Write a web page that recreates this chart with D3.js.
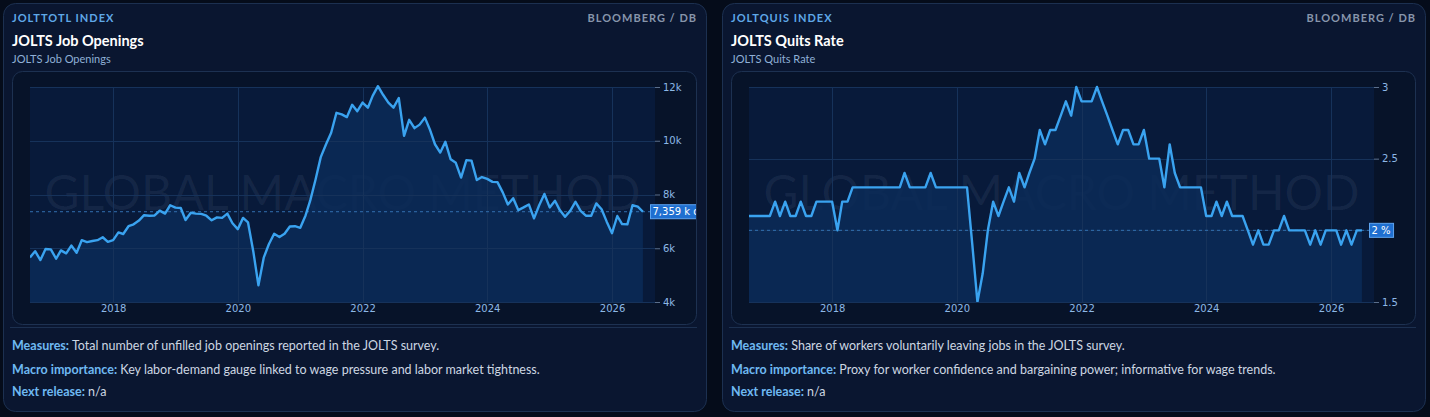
<!DOCTYPE html>
<html>
<head>
<meta charset="utf-8">
<script src="https://cdn.jsdelivr.net/npm/d3@7"></script>
<style>
  html, body { margin: 0; padding: 0; background: #050c1a; }
  svg { display: block; }
</style>
</head>
<body>
<svg id="chart" width="1430" height="417"></svg>
<script>
// monthly observations, first one is Sep 2016
const first_month = "2016-09";

// JOLTS job openings, thousands
const openings = [
  5660, 5890, 5560, 5970, 5960, 5610, 5920, 5810, 6100, 5830,
  6300, 6230, 6270, 6300, 6410, 6240, 6300, 6590, 6530, 6820,
  6890, 7030, 7230, 7210, 7220, 7400, 7290, 7600, 7510, 7500,
  7050, 7320, 7290, 7280, 7210, 7040, 7150, 7130, 7290, 6930,
  6710, 7130, 6960, 5880, 4620, 5650, 6150, 6540, 6420, 6540,
  6810, 6820, 6760, 7220, 7790, 8570, 9390, 9870, 10300, 11040,
  10980, 10880, 11340, 11100, 11420, 11230, 11670, 12030, 11710, 11420,
  11230, 11590, 10180, 10780, 10470, 10600, 10860, 10390, 9870, 9560,
  9960, 9310, 9180, 8630, 9280, 9260, 8540, 8650, 8580, 8470,
  8460, 8080, 7630, 7860, 7420, 7520, 7630, 7110, 7610, 8020,
  7520, 7770, 7420, 7170, 7390, 7730, 7390, 7210, 7210, 7670,
  7450, 6990, 6560, 7200, 6900, 6890, 7600, 7550, 7359
];

// JOLTS quits rate, %
const quits = [
  2.1, 2.1, 2.1, 2.1, 2.1, 2.2, 2.1, 2.2, 2.1, 2.1,
  2.2, 2.1, 2.1, 2.2, 2.2, 2.2, 2.2, 2.0, 2.2, 2.2,
  2.3, 2.3, 2.3, 2.3, 2.3, 2.3, 2.3, 2.3, 2.3, 2.3,
  2.4, 2.3, 2.3, 2.3, 2.3, 2.4, 2.3, 2.3, 2.3, 2.3,
  2.3, 2.3, 2.3, 1.9, 1.5, 1.7, 2.0, 2.2, 2.1, 2.2,
  2.3, 2.2, 2.4, 2.3, 2.4, 2.5, 2.7, 2.6, 2.7, 2.7,
  2.8, 2.9, 2.8, 3.0, 2.9, 2.9, 2.9, 3.0, 2.9, 2.8,
  2.7, 2.6, 2.7, 2.7, 2.6, 2.6, 2.7, 2.5, 2.5, 2.5,
  2.3, 2.6, 2.4, 2.3, 2.3, 2.3, 2.3, 2.3, 2.1, 2.1,
  2.2, 2.1, 2.2, 2.1, 2.1, 2.1, 2.0, 1.9, 2.0, 1.9,
  1.9, 2.0, 2.0, 2.1, 2.0, 2.0, 2.0, 2.0, 1.9, 2.0,
  1.9, 2.0, 2.0, 2.0, 1.9, 2.0, 1.9, 2.0, 2.0
];

const year_ticks = [2018, 2020, 2022, 2024, 2026];
const openings_ticks = [4000, 6000, 8000, 10000, 12000];
const quits_ticks = [1.5, 2, 2.5, 3];

const panels = [
  {
    code: "JOLTTOTL INDEX",
    source: "BLOOMBERG / DB",
    title: "JOLTS Job Openings",
    subtitle: "JOLTS Job Openings",
    values: openings,
    ticks: openings_ticks,
    domain: [4000, 12000],
    tick_format: (d) => d / 1000 + "k",
    badge: (v) => d3.format(",")(v) + " k openings",
    measures: "Total number of unfilled job openings reported in the JOLTS survey.",
    importance: "Key labor-demand gauge linked to wage pressure and labor market tightness.",
    next_release: "n/a",
  },
  {
    code: "JOLTQUIS INDEX",
    source: "BLOOMBERG / DB",
    title: "JOLTS Quits Rate",
    subtitle: "JOLTS Quits Rate",
    values: quits,
    ticks: quits_ticks,
    domain: [1.5, 3],
    tick_format: (d) => String(d),
    badge: (v) => v + " %",
    measures: "Share of workers voluntarily leaving jobs in the JOLTS survey.",
    importance: "Proxy for worker confidence and bargaining power; informative for wage trends.",
    next_release: "n/a",
  },
];

const ui_font = "Lato, 'Noto Sans', sans-serif";
const axis_font = "'DejaVu Sans', Verdana, sans-serif";

const col = {
  card: "#0a1630",
  card_line: "#1c3050",
  box: "#071329",
  box_line: "#1d3151",
  plot: "#081a3a",
  area: "#0b2b58",
  grid: "#16325a",
  line: "#3aa3f0",
  axis: "#8db8e6",
  tick: "#5b6f8c",
  dash: "#3270b0",
};

const svg = d3.select("#chart");
const start = d3.timeParse("%Y-%m")(first_month);

function draw_panel(panel, ox, idx) {
  const g = svg.append("g").attr("transform", `translate(${ox},0)`);

  // card
  g.append("rect")
    .attr("x", 3.5).attr("y", 3.5)
    .attr("width", 703).attr("height", 408)
    .attr("rx", 12)
    .attr("fill", col.card)
    .attr("stroke", col.card_line);

  g.append("text")
    .attr("x", 12).attr("y", 22)
    .attr("font-family", ui_font).attr("font-size", 11)
    .attr("font-weight", 700).attr("letter-spacing", 1)
    .attr("fill", "#5fa8e8")
    .text(panel.code);

  g.append("text")
    .attr("x", 697).attr("y", 22)
    .attr("text-anchor", "end")
    .attr("font-family", ui_font).attr("font-size", 11)
    .attr("font-weight", 700).attr("letter-spacing", 1)
    .attr("fill", "#8795ab")
    .text(panel.source);

  g.append("text")
    .attr("x", 12).attr("y", 46)
    .attr("font-family", ui_font).attr("font-size", 14.5)
    .attr("font-weight", 700)
    .attr("fill", "#ffffff")
    .text(panel.title);

  g.append("text")
    .attr("x", 12).attr("y", 63)
    .attr("font-family", ui_font).attr("font-size", 11)
    .attr("fill", "#8fb0d6")
    .text(panel.subtitle);

  // chart box
  g.append("rect")
    .attr("x", 12.5).attr("y", 71.5)
    .attr("width", 684).attr("height", 253)
    .attr("rx", 10)
    .attr("fill", col.box)
    .attr("stroke", col.box_line);

  const clip_id = "clip-" + idx;
  g.append("clipPath").attr("id", clip_id)
    .append("rect")
    .attr("x", 13).attr("y", 72)
    .attr("width", 683).attr("height", 252)
    .attr("rx", 10);

  const plot = { left: 30, right: 655, top: 87, bottom: 302 };
  const dates = panel.values.map((_, i) => d3.timeMonth.offset(start, i));
  const last = panel.values[panel.values.length - 1];

  const x = d3.scaleTime()
    .domain([start, d3.timeMonth.offset(start, 120)])
    .range([plot.left, plot.right - 1.5]);
  const y = d3.scaleLinear()
    .domain(panel.domain)
    .range([plot.bottom, plot.top]);

  g.append("rect")
    .attr("x", plot.left).attr("y", plot.top)
    .attr("width", plot.right - plot.left)
    .attr("height", plot.bottom - plot.top)
    .attr("fill", col.plot);

  // watermark
  g.append("text")
    .attr("x", (plot.left + plot.right) / 2)
    .attr("y", 210)
    .attr("text-anchor", "middle")
    .attr("font-family", ui_font)
    .attr("font-size", 48)
    .attr("fill", "#c8dcff")
    .attr("fill-opacity", 0.065)
    .text("GLOBAL MACRO METHOD");

  const series = panel.values.map((v, i) => ({ date: dates[i], value: v }));

  const area = d3.area()
    .x((d) => x(d.date))
    .y0(plot.bottom)
    .y1((d) => y(d.value));

  const line = d3.line()
    .x((d) => x(d.date))
    .y((d) => y(d.value));

  const plot_clip = "plotclip-" + idx;
  g.append("clipPath").attr("id", plot_clip)
    .append("rect")
    .attr("x", plot.left).attr("y", plot.top - 2)
    .attr("width", plot.right - plot.left)
    .attr("height", plot.bottom - plot.top + 2);

  g.append("path")
    .datum(series)
    .attr("fill", col.area)
    .attr("fill-opacity", 0.85)
    .attr("d", area);

  // grid over the area
  g.append("g")
    .selectAll("line")
    .data(year_ticks)
    .join("line")
    .attr("x1", (d) => Math.round(x(new Date(d, 0, 1))) + 0.5)
    .attr("x2", (d) => Math.round(x(new Date(d, 0, 1))) + 0.5)
    .attr("y1", plot.top).attr("y2", plot.bottom)
    .attr("stroke", col.grid);

  g.append("g")
    .selectAll("line")
    .data(panel.ticks)
    .join("line")
    .attr("x1", plot.left).attr("x2", plot.right)
    .attr("y1", (d) => Math.round(y(d)) + 0.5)
    .attr("y2", (d) => Math.round(y(d)) + 0.5)
    .attr("stroke", col.grid);

  // last value line
  g.append("line")
    .attr("x1", plot.left).attr("x2", plot.right)
    .attr("y1", y(last)).attr("y2", y(last))
    .attr("stroke", col.dash)
    .attr("stroke-dasharray", "3,3");

  g.append("path")
    .datum(series)
    .attr("clip-path", `url(#${plot_clip})`)
    .attr("fill", "none")
    .attr("stroke", col.line)
    .attr("stroke-width", 2.4)
    .attr("stroke-linejoin", "round")
    .attr("d", line);

  // axes
  const x_axis = d3.axisBottom(x)
    .tickValues(year_ticks.map((d) => new Date(d, 0, 1)))
    .tickFormat(d3.timeFormat("%Y"))
    .tickSize(0)
    .tickPadding(3);

  const ax = g.append("g")
    .attr("transform", `translate(0,${plot.bottom})`)
    .call(x_axis);
  ax.select(".domain").remove();
  ax.selectAll("text")
    .attr("font-family", axis_font).attr("font-size", 10)
    .attr("fill", col.axis);

  // tick labels that sit under the value badge are hidden, as in the source
  const y_axis = d3.axisRight(y)
    .tickValues(panel.ticks)
    .tickFormat((d) => (Math.abs(y(d) - y(last)) < 9 ? "" : panel.tick_format(d)))
    .tickSize(5)
    .tickPadding(3);

  const ay = g.append("g")
    .attr("transform", `translate(${plot.right},0)`)
    .call(y_axis);
  ay.select(".domain").remove();
  ay.selectAll("line").attr("stroke", col.tick);
  ay.selectAll("text")
    .attr("font-family", axis_font).attr("font-size", 10)
    .attr("fill", col.axis);

  // value badge, clipped by the chart box
  const bg = g.append("g").attr("clip-path", `url(#${clip_id})`);
  const badge = bg.append("g")
    .attr("transform", `translate(${plot.right - 5},${y(last)})`);
  const label = badge.append("text")
    .attr("x", 2.5).attr("y", 0)
    .attr("dy", "0.36em")
    .attr("font-family", axis_font).attr("font-size", 10)
    .attr("fill", "#ffffff")
    .text(panel.badge(last));
  const w = label.node().getComputedTextLength() + 5;
  badge.insert("rect", "text")
    .attr("x", 0.5).attr("y", -7)
    .attr("width", w).attr("height", 14)
    .attr("fill", "#1f6fd0")
    .attr("stroke", "#5ea4f0")
    .attr("stroke-width", 1);

  // notes below the chart
  g.append("line")
    .attr("x1", 10).attr("x2", 697)
    .attr("y1", 327.5).attr("y2", 327.5)
    .attr("stroke", col.card_line);

  const notes = [
    ["Measures:", panel.measures, 350],
    ["Macro importance:", panel.importance, 374],
    ["Next release:", panel.next_release, 396],
  ];
  notes.forEach(([k, v, yy]) => {
    const t = g.append("text")
      .attr("x", 12).attr("y", yy)
      .attr("font-family", ui_font).attr("font-size", 12.5)
      .attr("fill", "#cdd6e2");
    t.append("tspan").attr("font-weight", 700).attr("fill", "#6fb9f2").text(k);
    t.append("tspan").text(" " + v);
  });
}

panels.forEach((p, i) => draw_panel(p, i * 719, i));
</script>
</body>
</html>
